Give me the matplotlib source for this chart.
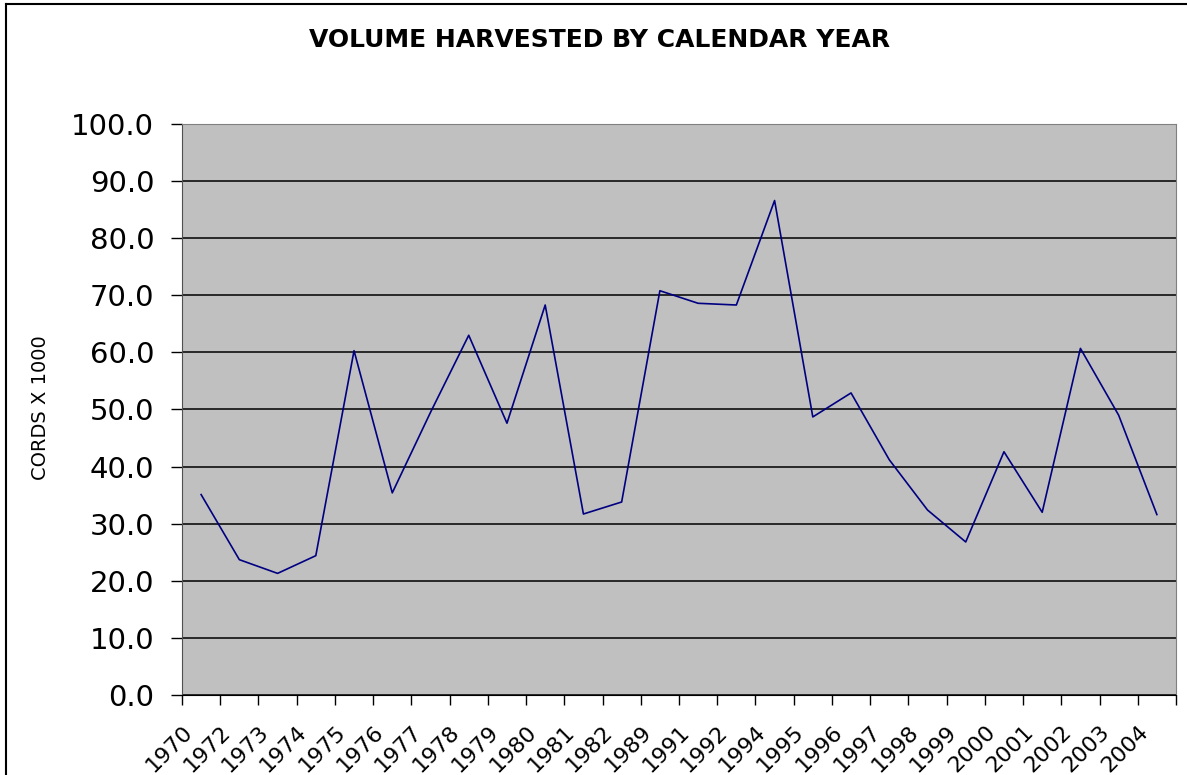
import matplotlib
matplotlib.use("Agg")
import matplotlib.pyplot as plt
from matplotlib.lines import Line2D
import numpy as np

# data (cords x 1000)
years = ["1970", "1972", "1973", "1974", "1975", "1976", "1977", "1978", "1979",
         "1980", "1981", "1982", "1989", "1991", "1992", "1994", "1995", "1996",
         "1997", "1998", "1999", "2000", "2001", "2002", "2003", "2004"]
volume = [35.1, 23.7, 21.3, 24.4, 60.3, 35.4, 49.5, 63.0, 47.6,
          68.3, 31.7, 33.8, 70.8, 68.6, 68.3, 86.6, 48.7, 52.9,
          41.2, 32.4, 26.8, 42.6, 32.0, 60.7, 49.0, 31.6]

W, H = 1187, 775
fig = plt.figure(figsize=(W / 100, H / 100), dpi=100)
ax = fig.add_axes([182 / W, 1 - 695 / H, (1176 - 182) / W, (695 - 124) / H])

n = len(years)
x = np.arange(n) + 0.5
ax.set_facecolor("#c0c0c0")
ax.plot(x, volume, color="#000080", lw=1.2, zorder=3)

ax.set_xlim(0, n)
ax.set_ylim(0, 100)
ax.set_yticks(np.arange(0, 101, 10))
ax.set_yticklabels([f"{v:.1f}" for v in np.arange(0, 101, 10)], fontsize=21)
ax.set_xticks(np.arange(n + 1))
ax.set_xticklabels(years + [""], fontsize=16, rotation=45, ha="right",
                   va="top", rotation_mode="anchor")
ax.tick_params(axis="y", length=8, width=1, pad=12, color="black")
ax.tick_params(axis="x", length=7, width=1, pad=12, color="black")
ax.grid(axis="y", color="black", lw=1.1, zorder=1)
ax.set_axisbelow(True)
for side in ["top", "right"]:
    ax.spines[side].set_color("#808080")
ax.spines["left"].set_color("#505050")
ax.spines["bottom"].set_color("black")

fig.text(0.505, 1 - 40 / H, "VOLUME HARVESTED BY CALENDAR YEAR",
         ha="center", va="center", fontsize=18, fontweight="bold")
fig.text(41 / W, 1 - 408 / H, "CORDS X 1000", rotation=90,
         ha="center", va="center", fontsize=14)

# outer frame of the chart object
fig.add_artist(Line2D([6 / W, 6 / W], [0, 1 - 4 / H], color="black", lw=1.5))
fig.add_artist(Line2D([6 / W, 1], [1 - 4 / H, 1 - 4 / H], color="black", lw=1.5))

fig.savefig("out.png", dpi=100)
